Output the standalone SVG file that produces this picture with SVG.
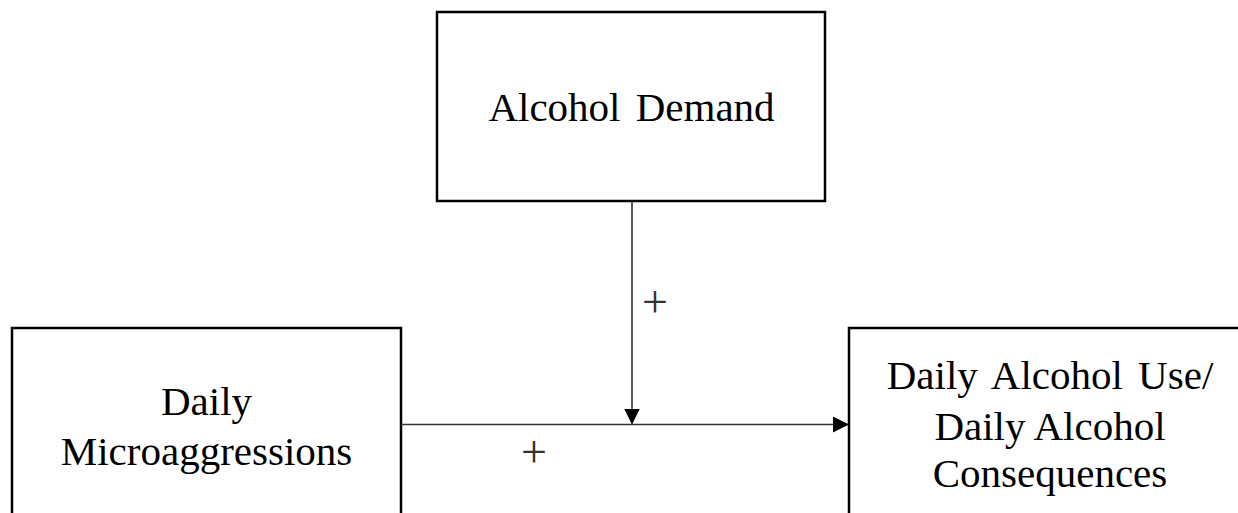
<svg xmlns="http://www.w3.org/2000/svg" width="1238" height="513" viewBox="0 0 1238 513">
<style>
.box{fill:#fff;stroke:#000;stroke-width:2.5}
.lbl{font-family:"Liberation Serif","Times New Roman",serif;font-size:41px;fill:#000;text-anchor:middle}
.plus{font-family:"Liberation Serif","Times New Roman",serif;font-size:46px;fill:#333;text-anchor:middle}
.conn{stroke:#333;stroke-width:1.6;fill:none}
</style>
<defs>
<marker id="ah" markerUnits="userSpaceOnUse" markerWidth="16" markerHeight="16" viewBox="0 0 16 16" refX="15" refY="8" orient="auto">
<path d="M0,0 L16,8 L0,16 Z" fill="#000"/>
</marker>
</defs>
<rect width="1238" height="513" fill="#fff"/>
<g id="alcohol-demand">
<rect class="box" x="437" y="12" width="388" height="189"/>
<text class="lbl" x="631.5" y="121" word-spacing="5">Alcohol Demand</text>
</g>
<g id="daily-microaggressions">
<rect class="box" x="12" y="328" width="389" height="200"/>
<text class="lbl" x="206.5" y="415">Daily</text>
<text class="lbl" x="206.5" y="465">Microaggressions</text>
</g>
<g id="daily-alcohol-use">
<rect class="box" x="849" y="328" width="400" height="200"/>
<text class="lbl" x="1050" y="389" word-spacing="5">Daily Alcohol Use/</text>
<text class="lbl" x="1050" y="440">Daily Alcohol</text>
<text class="lbl" x="1050" y="487">Consequences</text>
</g>
<g id="connectors">
<line class="conn" x1="401" y1="424.5" x2="848" y2="424.5" marker-end="url(#ah)"/>
<line class="conn" x1="632" y1="201" x2="632" y2="423.5" marker-end="url(#ah)"/>
<text class="plus" x="655" y="317">+</text>
<text class="plus" x="534" y="467">+</text>
</g>
</svg>
